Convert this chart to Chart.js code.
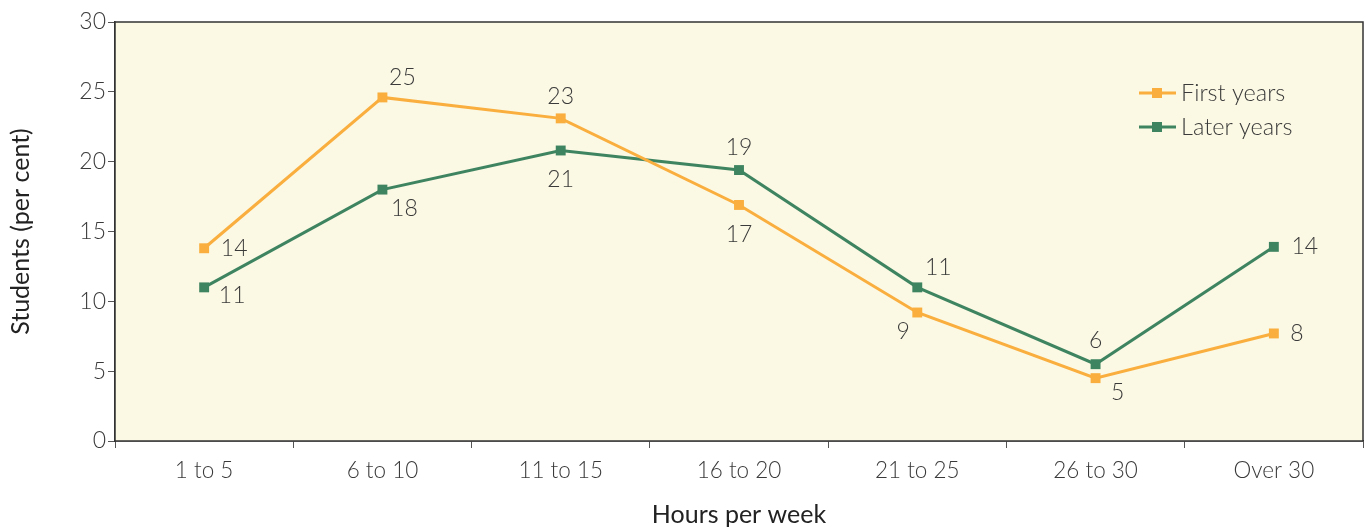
<!DOCTYPE html>
<html>
<head>
<meta charset="utf-8">
<script src="https://cdn.jsdelivr.net/npm/chart.js@4/dist/chart.umd.min.js"></script>
<style>
    html, body { margin: 0; padding: 0; background: #ffffff; }
    #wrap { width: 1370px; height: 530px; position: relative; }
</style>
</head>
<body>
<div id="wrap"><canvas id="hoursChart"></canvas></div>
<script>
// Chart data
const categories = ['1 to 5', '6 to 10', '11 to 15', '16 to 20', '21 to 25', '26 to 30', 'Over 30'];
const firstYears = [13.8, 24.6, 23.1, 16.9, 9.2, 4.5, 7.7];
const laterYears = [11.0, 18.0, 20.8, 19.4, 11.0, 5.5, 13.9];
const yTicks = [0, 5, 10, 15, 20, 25, 30];

// Where each value label sits relative to its point (dx, dy)
const firstOffsets = [[30, 0], [20, -20], [0, -22], [0, 30], [-14, 19], [22, 14], [23, 0]];
const laterOffsets = [[28, 8], [22, 19], [0, 29], [0, -22], [21, -20], [0, -24], [31, 0]];

const textColor = '#3a3a3a';
const fontFamily = 'Lato, "Open Sans", sans-serif';

// Background and frame of the plot area
const plotFrame = {
    id: 'plotFrame',
    beforeDatasetsDraw(chart) {
        const { ctx, chartArea: a } = chart;
        ctx.save();
        ctx.fillStyle = '#FBF8E3';
        ctx.fillRect(a.left, a.top, a.right - a.left, a.bottom - a.top);
        ctx.strokeStyle = '#333333';
        ctx.lineWidth = 1.5;
        ctx.strokeRect(a.left, a.top, a.right - a.left, a.bottom - a.top);
        ctx.restore();
    }
};

// Value labels next to every point
const valueLabels = {
    id: 'valueLabels',
    afterDatasetsDraw(chart) {
        const { ctx } = chart;
        const offsets = [firstOffsets, laterOffsets];
        ctx.save();
        ctx.font = '300 23px ' + fontFamily;
        ctx.fillStyle = textColor;
        ctx.textAlign = 'center';
        ctx.textBaseline = 'middle';
        chart.data.datasets.forEach((ds, i) => {
            chart.getDatasetMeta(i).data.forEach((pt, j) => {
                const [dx, dy] = offsets[i][j];
                ctx.fillText(String(Math.round(ds.data[j])), pt.x + dx, pt.y + dy);
            });
        });
        ctx.restore();
    }
};

// Legend drawn inside the plot, top right
const innerLegend = {
    id: 'innerLegend',
    afterDraw(chart) {
        const { ctx, chartArea: a } = chart;
        const x0 = a.right - 224;
        ctx.save();
        ctx.font = '300 23.5px ' + fontFamily;
        ctx.textBaseline = 'middle';
        chart.data.datasets.forEach((ds, i) => {
            const y = a.top + 71 + i * 34;
            ctx.strokeStyle = ds.borderColor;
            ctx.lineWidth = 3;
            ctx.beginPath();
            ctx.moveTo(x0, y);
            ctx.lineTo(x0 + 37, y);
            ctx.stroke();
            ctx.fillStyle = ds.backgroundColor;
            ctx.fillRect(x0 + 13, y - 5, 10, 10);
            ctx.fillStyle = textColor;
            ctx.fillText(ds.label, x0 + 42, y);
        });
        ctx.restore();
    }
};

const ctx = document.getElementById('hoursChart').getContext('2d');
new Chart(ctx, {
    type: 'line',
    data: {
        labels: categories,
        datasets: [{
            label: 'First years',
            data: firstYears,
            borderColor: '#F9AE3D',
            backgroundColor: '#F9AE3D',
            borderWidth: 3,
            pointStyle: 'rect',
            pointRadius: 7,
            pointBorderWidth: 0,
            tension: 0
        }, {
            label: 'Later years',
            data: laterYears,
            borderColor: '#3E8461',
            backgroundColor: '#3E8461',
            borderWidth: 3,
            pointStyle: 'rect',
            pointRadius: 7,
            pointBorderWidth: 0,
            tension: 0
        }]
    },
    options: {
        responsive: true,
        maintainAspectRatio: false,
        animation: false,
        layout: { padding: { top: 22, right: 5, left: 0, bottom: 0 } },
        plugins: {
            legend: { display: false },
            tooltip: { enabled: false }
        },
        scales: {
            x: {
                offset: true,
                grid: {
                    offset: true,
                    drawOnChartArea: false,
                    tickLength: 7,
                    color: '#555555'
                },
                border: { color: '#333333', width: 1.5 },
                ticks: {
                    color: textColor,
                    font: { family: fontFamily, size: 22.5, weight: '300' },
                    padding: 9
                },
                title: {
                    display: true,
                    text: 'Hours per week',
                    color: '#222222',
                    font: { family: fontFamily, size: 25, weight: '400' },
                    padding: { top: 16, bottom: 0 }
                },
                afterFit(scale) { scale.height = 89; }
            },
            y: {
                min: 0,
                max: 30,
                afterBuildTicks(scale) { scale.ticks = yTicks.map(v => ({ value: v })); },
                grid: {
                    drawOnChartArea: false,
                    tickLength: 7,
                    color: '#555555'
                },
                border: { color: '#333333', width: 1.5 },
                ticks: {
                    color: textColor,
                    font: { family: fontFamily, size: 23, weight: '300' },
                    padding: 2
                },
                title: {
                    display: true,
                    text: 'Students (per cent)',
                    color: '#222222',
                    font: { family: fontFamily, size: 25, weight: '400' },
                    padding: { top: 6, bottom: 20 }
                },
                afterFit(scale) { scale.width = 115; }
            }
        }
    },
    plugins: [plotFrame, valueLabels, innerLegend]
});
</script>
</body>
</html>
